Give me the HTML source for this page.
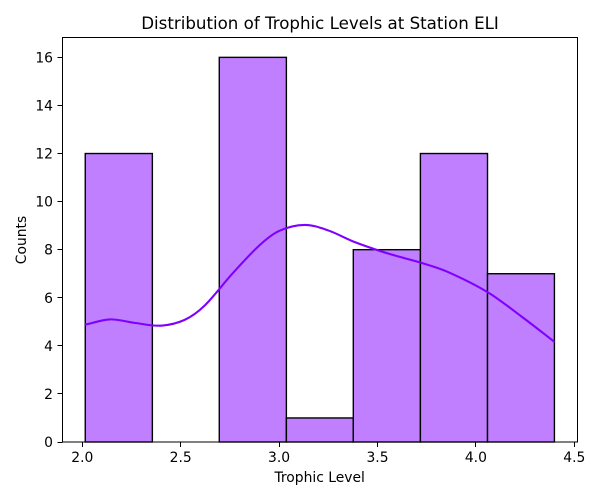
<!DOCTYPE html>
<html>
<head>
<meta charset="utf-8">
<title>Distribution of Trophic Levels at Station ELI</title>
<style>
html,body{margin:0;padding:0;background:#fff;}
svg{display:block;font-family:"DejaVu Sans","Liberation Sans",sans-serif;}
text{fill:#000;}
</style>
</head>
<body>
<svg id="chart" width="600" height="500" viewBox="0 0 600 500" xmlns="http://www.w3.org/2000/svg">
  <rect x="0" y="0" width="600" height="500" fill="#ffffff"/>
  <g id="bars"></g>
  <path id="kde" fill="none" stroke="#7f00ff" stroke-width="2.08" stroke-linecap="butt" stroke-linejoin="round"></path>
  <g id="ticks"></g>
  <rect x="62.5" y="37.5" width="515" height="404.5" fill="none" stroke="#000" stroke-width="1.11" shape-rendering="crispEdges"/>
  <text x="320" y="29" font-size="16.67" text-anchor="middle">Distribution of Trophic Levels at Station ELI</text>
  <text x="319.7" y="482" font-size="13.89" text-anchor="middle">Trophic Level</text>
  <text transform="translate(26,240) rotate(-90)" font-size="13.89" text-anchor="middle">Counts</text>
</svg>
<script>
const binEdges = [2.015, 2.356, 2.696, 3.037, 3.377, 3.718, 4.059, 4.399];
const binCounts = [12, 0, 16, 1, 8, 12, 7];
const kdeLevels = [2.014, 2.14, 2.27, 2.40, 2.52, 2.62, 2.76, 2.90, 3.00, 3.13, 3.25, 3.38, 3.55, 3.72, 3.85, 4.06, 4.23, 4.40];
const kdeCounts = [4.88, 5.10, 4.95, 4.84, 5.08, 5.66, 6.98, 8.18, 8.78, 9.03, 8.80, 8.33, 7.85, 7.46, 7.10, 6.23, 5.23, 4.16];
const xTickValues = [2.0, 2.5, 3.0, 3.5, 4.0, 4.5];
const xTickLabels = ['2.0', '2.5', '3.0', '3.5', '4.0', '4.5'];
const yTickValues = [0, 2, 4, 6, 8, 10, 12, 14, 16];
const yTickLabels = ['0', '2', '4', '6', '8', '10', '12', '14', '16'];

const NS = 'http://www.w3.org/2000/svg';
function xScale(v) { return 82.3 + (v - 2) * 196.8; }
function yScale(v) { return 442 - v * 24.04; }
function make(tag, attrs) {
  const el = document.createElementNS(NS, tag);
  Object.keys(attrs).forEach(function (k) { el.setAttribute(k, attrs[k]); });
  return el;
}

const barsGroup = document.getElementById('bars');
binCounts.forEach(function (count, i) {
  const x0 = xScale(binEdges[i]);
  const x1 = xScale(binEdges[i + 1]);
  const top = yScale(count);
  const bar = make('rect', { x: x0, y: top, width: x1 - x0, height: yScale(0) - top, fill: '#bf7fff', stroke: '#000', 'stroke-width': 1.39 });
  
  
  barsGroup.appendChild(bar);
});

const px = kdeLevels.map(xScale);
const py = kdeCounts.map(yScale);
const slopes = px.map(function (x, i) {
  const a = Math.max(i - 1, 0);
  const b = Math.min(i + 1, px.length - 1);
  return (py[b] - py[a]) / (px[b] - px[a]);
});
let d = 'M' + px[0].toFixed(2) + ' ' + py[0].toFixed(2);
for (let i = 0; i < px.length - 1; i++) {
  const step = (px[i + 1] - px[i]) / 3;
  const c1x = px[i] + step;
  const c1y = py[i] + slopes[i] * step;
  const c2x = px[i + 1] - step;
  const c2y = py[i + 1] - slopes[i + 1] * step;
  d += 'C' + c1x.toFixed(2) + ' ' + c1y.toFixed(2) + ' ' + c2x.toFixed(2) + ' ' + c2y.toFixed(2) + ' ' + px[i + 1].toFixed(2) + ' ' + py[i + 1].toFixed(2);
}
document.getElementById('kde').setAttribute('d', d);

const ticksGroup = document.getElementById('ticks');
xTickValues.forEach(function (v, i) {
  const x = Math.round(xScale(v) - 0.5) + 0.5;
  const mark = make('line', { x1: x, x2: x, y1: 442, y2: 447, stroke: '#000', 'stroke-width': 1.11, 'shape-rendering': 'crispEdges' });
  
  
  ticksGroup.appendChild(mark);
  const label = make('text', { x: xScale(v), y: 462, 'font-size': 13.89, 'text-anchor': 'middle' });
  
  
  label.textContent = xTickLabels[i];
  ticksGroup.appendChild(label);
});
yTickValues.forEach(function (v, i) {
  const y = Math.round(yScale(v) - 0.5) + 0.5;
  const mark = make('line', { x1: 57.6, x2: 62.5, y1: y, y2: y, stroke: '#000', 'stroke-width': 1.11, 'shape-rendering': 'crispEdges' });
  
  
  ticksGroup.appendChild(mark);
  const label = make('text', { x: 53, y: yScale(v) + 5, 'font-size': 13.89, 'text-anchor': 'end' });
  
  
  label.textContent = yTickLabels[i];
  ticksGroup.appendChild(label);
});
</script>
</body>
</html>
